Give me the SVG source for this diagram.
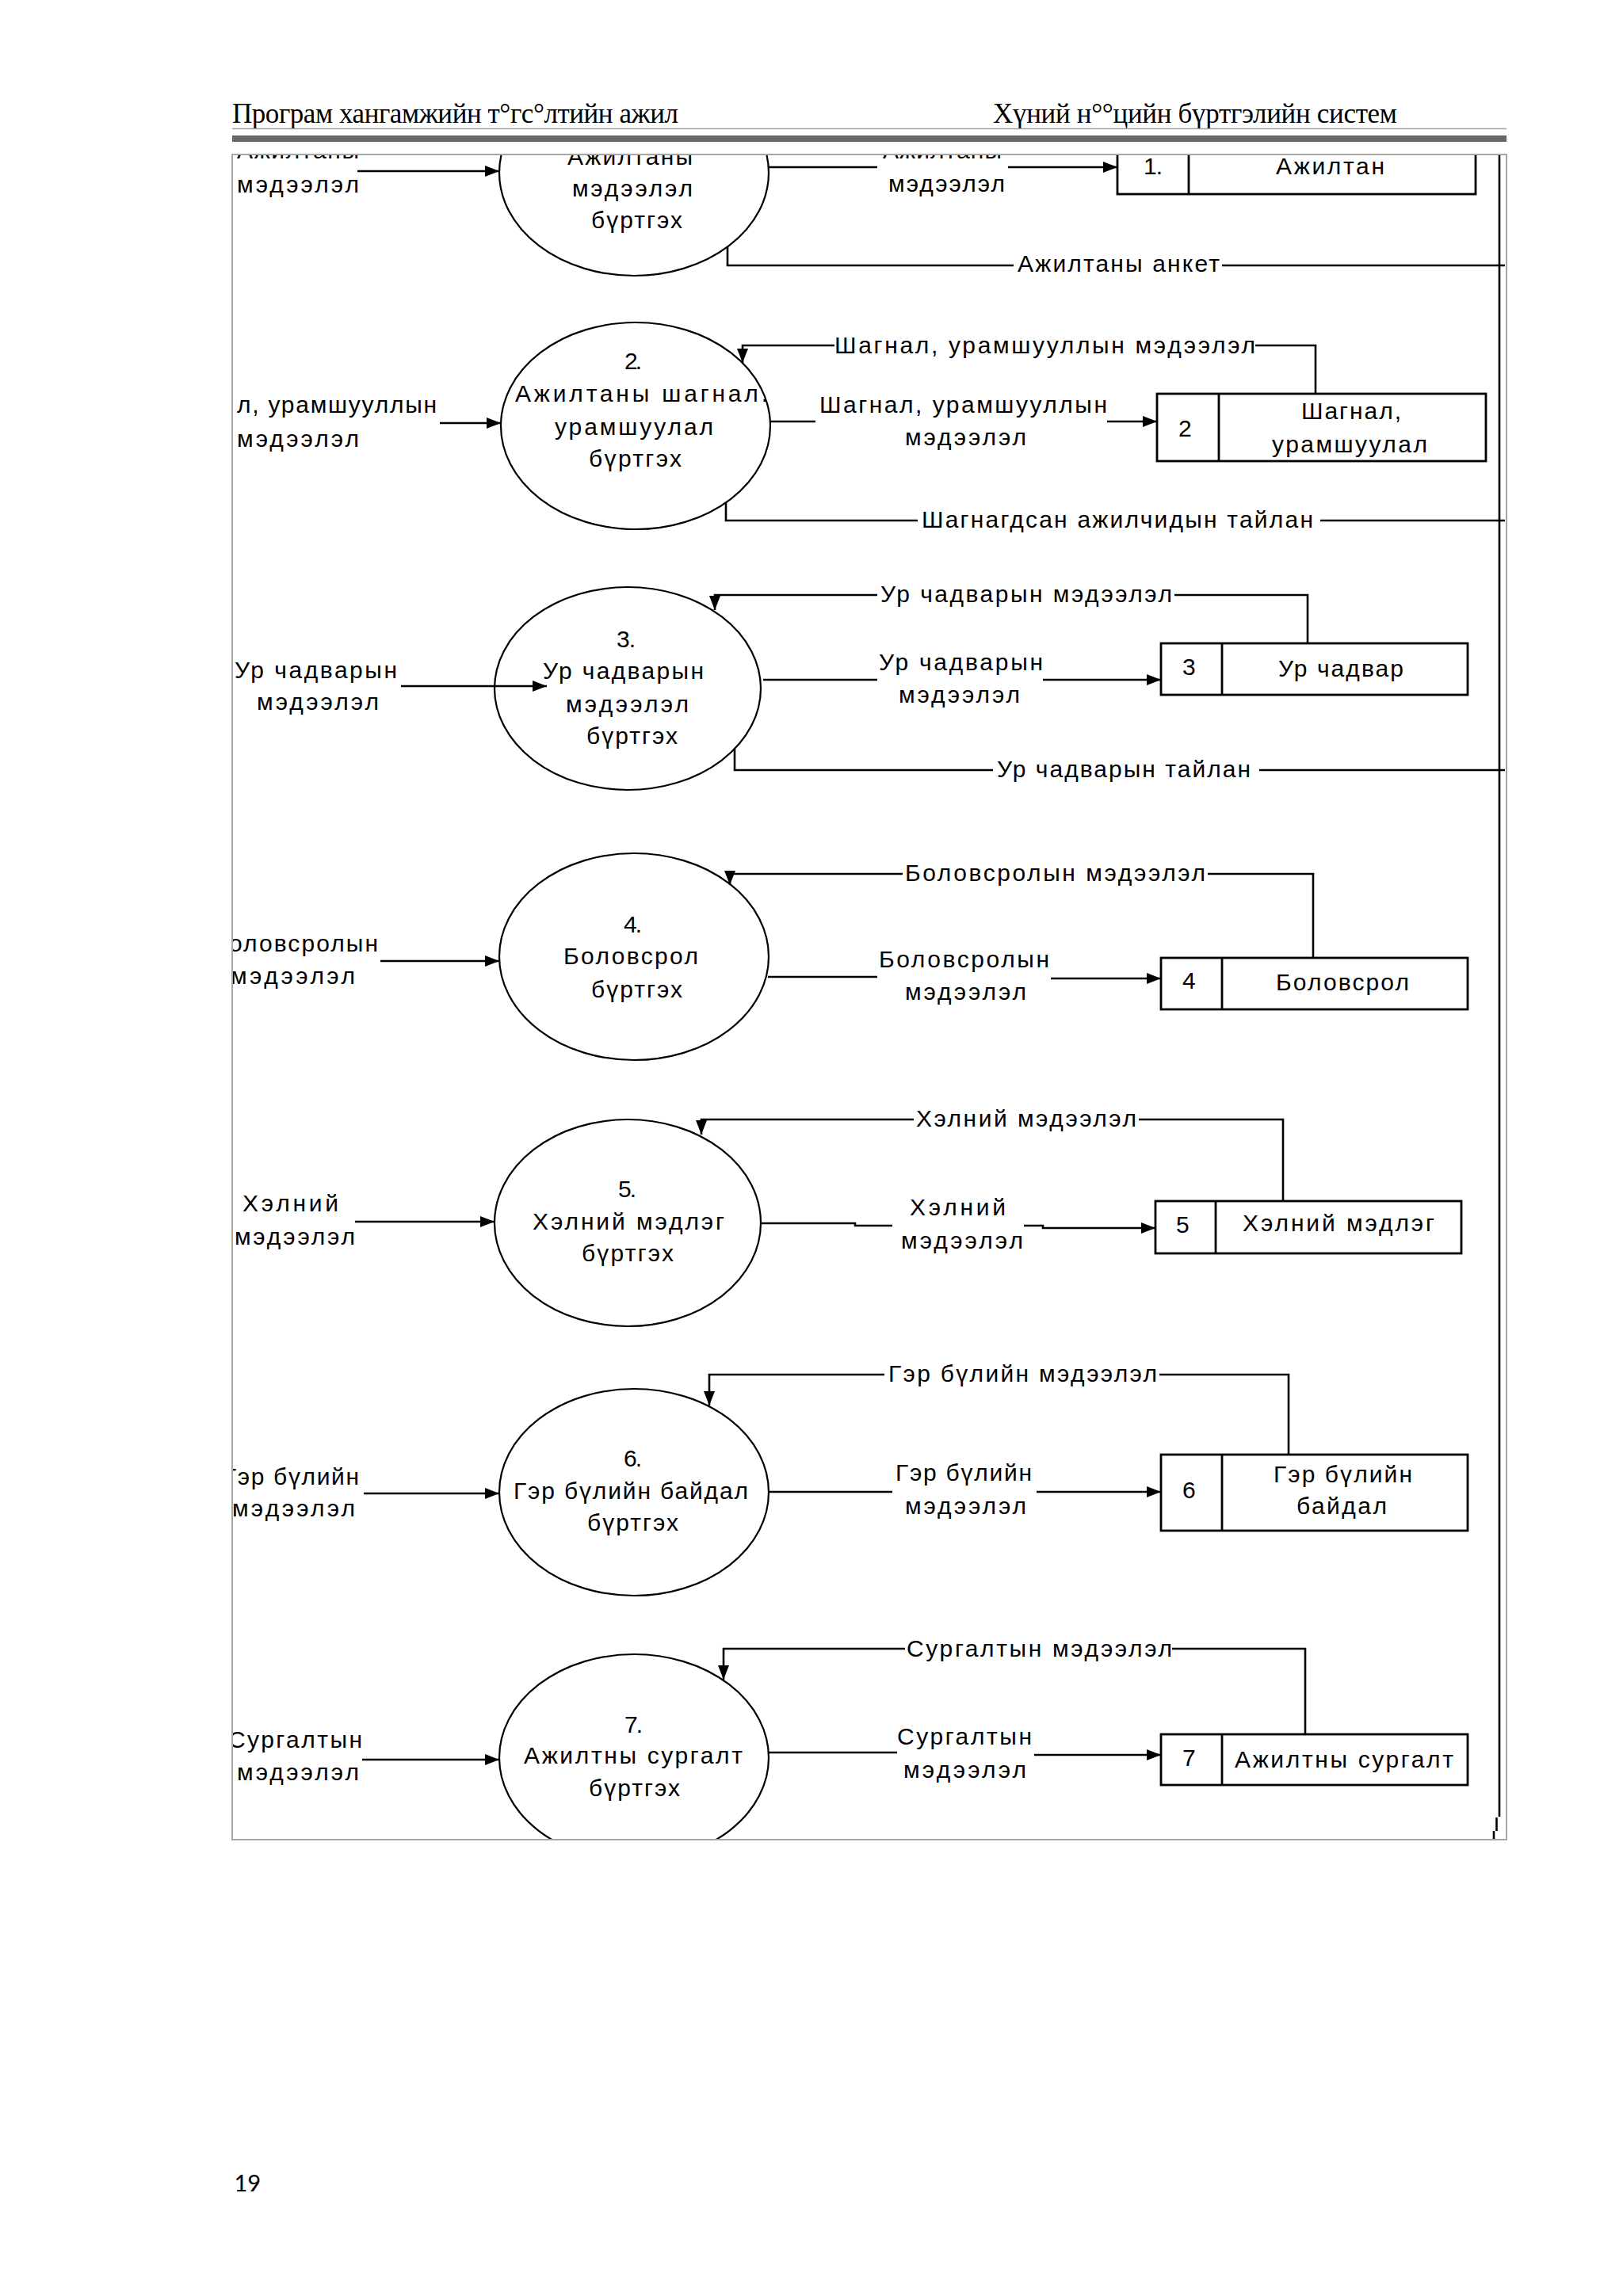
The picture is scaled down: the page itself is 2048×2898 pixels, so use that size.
<svg xmlns="http://www.w3.org/2000/svg" width="2048" height="2898" viewBox="0 0 2048 2898">
<style>
.t{font-family:"Liberation Sans",Arial,sans-serif;font-size:30px;fill:#000}
.h{font-family:"Liberation Serif","Times New Roman",serif;font-size:35px;fill:#000}
.pn{font-family:Carlito,"Open Sans",sans-serif;font-size:33px;fill:#000}
.el{fill:none;stroke:#000;stroke-width:2.2}
.bx{fill:#fff;stroke:#000;stroke-width:2.8}
.ln{fill:none;stroke:#000;stroke-width:2.6}
.fr{fill:none;stroke:#a6a6a6;stroke-width:2}
</style>
<defs>
<marker id="ah" viewBox="0 0 18 14" refX="18" refY="7" markerWidth="18" markerHeight="14" markerUnits="userSpaceOnUse" orient="auto"><path d="M0,0 L18,7 L0,14 z" fill="#000"/></marker>
<clipPath id="cp"><rect x="294" y="196" width="1606" height="2125"/></clipPath>
</defs>
<rect width="2048" height="2898" fill="#fff"/>
<g id="header">
<text class="h" x="293" y="155" textLength="563">Програм хангамжийн т°гс°лтийн ажил</text>
<text class="h" x="1253" y="155" textLength="510">Хүний н°°цийн бүртгэлийн систем</text>
<line x1="293" y1="162.5" x2="1901" y2="162.5" stroke="#a0a0a0" stroke-width="1.5"/>
<rect x="293" y="171" width="1608" height="8" fill="#666"/>
</g>
<g id="diagram" clip-path="url(#cp)">
<g id="ext1"><text class="t" x="299" y="200" textLength="154">Ажилтаны</text><text class="t" x="299" y="243" textLength="154">мэдээлэл</text></g>
<g id="ext2"><text class="t" x="299" y="521" textLength="252">л, урамшууллын</text><text class="t" x="299" y="564" textLength="154">мэдээлэл</text></g>
<g id="ext3"><text class="t" x="296" y="856" textLength="205">Ур чадварын</text><text class="t" x="324" y="896" textLength="154">мэдээлэл</text></g>
<g id="ext4"><text class="t" x="289" y="1201" textLength="188">оловсролын</text><text class="t" x="291" y="1242" textLength="157">мэдээлэл</text></g>
<g id="ext5"><text class="t" x="306" y="1529" textLength="121">Хэлний</text><text class="t" x="296" y="1571" textLength="152">мэдээлэл</text></g>
<g id="ext6"><text class="t" x="282" y="1874" textLength="171">Гэр бүлийн</text><text class="t" x="293" y="1914" textLength="155">мэдээлэл</text></g>
<g id="ext7"><text class="t" x="288" y="2206" textLength="169">Сургалтын</text><text class="t" x="299" y="2247" textLength="154">мэдээлэл</text></g>
<g id="p1"><ellipse class="el" cx="800" cy="218" rx="170" ry="130"/>
<text class="t" x="716" y="208" textLength="158">Ажилтаны</text><text class="t" x="722" y="248" textLength="152">мэдээлэл</text><text class="t" x="746" y="288" textLength="115">бүртгэх</text></g>
<g id="p2"><ellipse class="el" cx="802" cy="537.5" rx="170" ry="130.5"/>
<text class="t" x="788" y="466" textLength="22">2.</text><text class="t" x="650" y="507" textLength="319">Ажилтаны шагнал.</text><text class="t" x="700" y="549" textLength="200">урамшуулал</text><text class="t" x="743" y="589" textLength="117">бүртгэх</text></g>
<g id="p3"><ellipse class="el" cx="792" cy="869" rx="168" ry="128"/>
<text class="t" x="778" y="817" textLength="24">3.</text><text class="t" x="685" y="857" textLength="203">Ур чадварын</text><text class="t" x="714" y="899" textLength="155">мэдээлэл</text><text class="t" x="740" y="939" textLength="115">бүртгэх</text></g>
<g id="p4"><ellipse class="el" cx="800" cy="1207.5" rx="170" ry="130.5"/>
<text class="t" x="787" y="1177" textLength="23">4.</text><text class="t" x="711" y="1217" textLength="170">Боловсрол</text><text class="t" x="746" y="1259" textLength="115">бүртгэх</text></g>
<g id="p5"><ellipse class="el" cx="792" cy="1543.5" rx="168" ry="130.5"/>
<text class="t" x="780" y="1511" textLength="23">5.</text><text class="t" x="672" y="1552" textLength="242">Хэлний мэдлэг</text><text class="t" x="734" y="1592" textLength="116">бүртгэх</text></g>
<g id="p6"><ellipse class="el" cx="800" cy="1883.5" rx="170" ry="130.5"/>
<text class="t" x="787" y="1851" textLength="23">6.</text><text class="t" x="648" y="1892" textLength="296">Гэр бүлийн байдал</text><text class="t" x="741" y="1932" textLength="115">бүртгэх</text></g>
<g id="p7"><ellipse class="el" cx="800" cy="2218.5" rx="170" ry="130.5"/>
<text class="t" x="788" y="2187" textLength="23">7.</text><text class="t" x="661" y="2226" textLength="276">Ажилтны сургалт</text><text class="t" x="743" y="2267" textLength="115">бүртгэх</text></g>
<g id="d1"><rect class="bx" x="1410" y="160" width="452" height="85"/><line class="bx" x1="1500" y1="160" x2="1500" y2="245"/>
<text class="t" x="1443" y="220" textLength="24">1.</text><text class="t" x="1610" y="220" textLength="137">Ажилтан</text></g>
<g id="d2"><rect class="bx" x="1460" y="497" width="415" height="85"/><line class="bx" x1="1538" y1="497" x2="1538" y2="582"/>
<text class="t" x="1487" y="551" textLength="17">2</text><text class="t" x="1642" y="529" textLength="126">Шагнал,</text><text class="t" x="1605" y="571" textLength="196">урамшуулал</text></g>
<g id="d3"><rect class="bx" x="1465" y="812" width="387" height="65"/><line class="bx" x1="1542" y1="812" x2="1542" y2="877"/>
<text class="t" x="1492" y="852" textLength="17">3</text><text class="t" x="1613" y="854" textLength="158">Ур чадвар</text></g>
<g id="d4"><rect class="bx" x="1465" y="1209" width="387" height="65"/><line class="bx" x1="1542" y1="1209" x2="1542" y2="1274"/>
<text class="t" x="1492" y="1248" textLength="17">4</text><text class="t" x="1610" y="1250" textLength="168">Боловсрол</text></g>
<g id="d5"><rect class="bx" x="1458" y="1516" width="386" height="66"/><line class="bx" x1="1534" y1="1516" x2="1534" y2="1582"/>
<text class="t" x="1484" y="1556" textLength="17">5</text><text class="t" x="1568" y="1554" textLength="242">Хэлний мэдлэг</text></g>
<g id="d6"><rect class="bx" x="1465" y="1836" width="387" height="96"/><line class="bx" x1="1542" y1="1836" x2="1542" y2="1932"/>
<text class="t" x="1492" y="1891" textLength="17">6</text><text class="t" x="1607" y="1871" textLength="175">Гэр бүлийн</text><text class="t" x="1636" y="1911" textLength="114">байдал</text></g>
<g id="d7"><rect class="bx" x="1465" y="2189" width="387" height="64"/><line class="bx" x1="1542" y1="2189" x2="1542" y2="2253"/>
<text class="t" x="1492" y="2229" textLength="17">7</text><text class="t" x="1558" y="2231" textLength="276">Ажилтны сургалт</text></g>
<g id="connectors">
<path class="ln" d="M451,216 H630" marker-end="url(#ah)"/>
<path class="ln" d="M970,211 H1107 M1272,211 H1410" marker-end="url(#ah)"/>
<path class="ln" d="M918,312 V335 H1279 M1542,335 H1899"/>
<path class="ln" d="M555,534 H632" marker-end="url(#ah)"/>
<path class="ln" d="M1660,497 V436 H1584 M1053,436 H937 V458" marker-end="url(#ah)"/>
<path class="ln" d="M972,532 H1029 M1397,532 H1460" marker-end="url(#ah)"/>
<path class="ln" d="M916,634 V657 H1158 M1666,657 H1899"/>
<path class="ln" d="M506,866 H690" marker-end="url(#ah)"/>
<path class="ln" d="M1650,812 V751 H1482 M1107,751 H902 V770" marker-end="url(#ah)"/>
<path class="ln" d="M963,858 H1107 M1316,858 H1465" marker-end="url(#ah)"/>
<path class="ln" d="M927,945 V972 H1253 M1589,972 H1899"/>
<path class="ln" d="M480,1213 H630" marker-end="url(#ah)"/>
<path class="ln" d="M1657,1209 V1103 H1524 M1139,1103 H921 V1117" marker-end="url(#ah)"/>
<path class="ln" d="M969,1233 H1107 M1326,1235 H1465" marker-end="url(#ah)"/>
<path class="ln" d="M448,1542 H624" marker-end="url(#ah)"/>
<path class="ln" d="M1619,1516 V1413 H1437 M1153,1413 H885 V1432" marker-end="url(#ah)"/>
<path class="ln" d="M960,1544 H1079 V1547 H1126 M1292,1547 H1316 V1550 H1458" marker-end="url(#ah)"/>
<path class="ln" d="M459,1885 H630" marker-end="url(#ah)"/>
<path class="ln" d="M1626,1836 V1735 H1463 M1116,1735 H895 V1774" marker-end="url(#ah)"/>
<path class="ln" d="M970,1883 H1126 M1308,1883 H1465" marker-end="url(#ah)"/>
<path class="ln" d="M457,2221 H630" marker-end="url(#ah)"/>
<path class="ln" d="M1647,2189 V2081 H1479 M1142,2081 H913 V2120" marker-end="url(#ah)"/>
<path class="ln" d="M970,2212 H1132 M1305,2215 H1465" marker-end="url(#ah)"/>
<path class="ln" d="M1892,195 V2293 M1888.5,2294 V2311 M1885,2311 V2321"/>
<text class="t" x="1114" y="200" textLength="150">Ажилтаны</text>
<text class="t" x="1121" y="242" textLength="147">мэдээлэл</text>
<text class="t" x="1284" y="343" textLength="255">Ажилтаны анкет</text>
<text class="t" x="1053" y="446" textLength="531">Шагнал, урамшууллын мэдээлэл</text>
<text class="t" x="1034" y="521" textLength="363">Шагнал, урамшууллын</text>
<text class="t" x="1142" y="562" textLength="153">мэдээлэл</text>
<text class="t" x="1163" y="666" textLength="494">Шагнагдсан ажилчидын тайлан</text>
<text class="t" x="1111" y="760" textLength="368">Ур чадварын мэдээлэл</text>
<text class="t" x="1109" y="846" textLength="207">Ур чадварын</text>
<text class="t" x="1134" y="887" textLength="153">мэдээлэл</text>
<text class="t" x="1258" y="981" textLength="320">Ур чадварын тайлан</text>
<text class="t" x="1142" y="1112" textLength="379">Боловсролын мэдээлэл</text>
<text class="t" x="1109" y="1221" textLength="215">Боловсролын</text>
<text class="t" x="1142" y="1262" textLength="153">мэдээлэл</text>
<text class="t" x="1156" y="1422" textLength="278">Хэлний мэдээлэл</text>
<text class="t" x="1148" y="1534" textLength="121">Хэлний</text>
<text class="t" x="1137" y="1576" textLength="154">мэдээлэл</text>
<text class="t" x="1121" y="1744" textLength="339">Гэр бүлийн мэдээлэл</text>
<text class="t" x="1130" y="1869" textLength="172">Гэр бүлийн</text>
<text class="t" x="1142" y="1911" textLength="153">мэдээлэл</text>
<text class="t" x="1144" y="2091" textLength="335">Сургалтын мэдээлэл</text>
<text class="t" x="1132" y="2202" textLength="170">Сургалтын</text>
<text class="t" x="1140" y="2244" textLength="155">мэдээлэл</text>
</g>
</g>
<rect class="fr" x="293" y="195" width="1608" height="2127"/>
<text class="pn" x="295" y="2766">19</text>
</svg>
